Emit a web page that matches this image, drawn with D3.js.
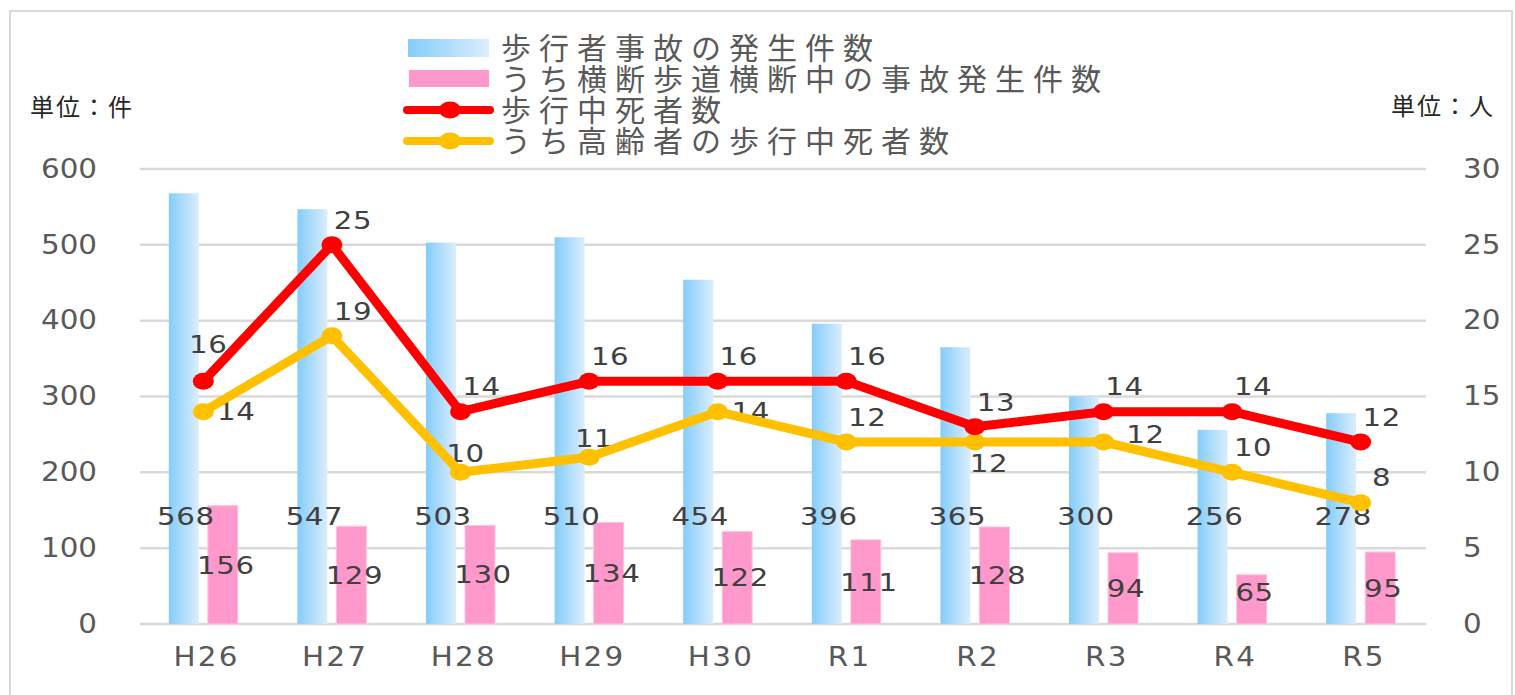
<!DOCTYPE html>
<html><head><meta charset="utf-8">
<script src="https://cdn.jsdelivr.net/npm/d3@7"></script>
<style>
html,body{margin:0;padding:0;background:#fff;}
text{font-family:"DejaVu Sans",Verdana,sans-serif;}
.jp{font-family:"Noto Sans CJK JP","Noto Sans CJK SC",sans-serif;}
</style></head><body>
<script>
const categories = ["H26","H27","H28","H29","H30","R1","R2","R3","R4","R5"];
const accidents = [568,547,503,510,454,396,365,300,256,278];
const crossing = [156,129,130,134,122,111,128,94,65,95];
const deaths = [16,25,14,16,16,16,13,14,14,12];
const elderlyDeaths = [14,19,10,11,14,12,12,12,10,8];
const leftTicks = [0,100,200,300,400,500,600];
const rightTicks = [0,5,10,15,20,25,30];
const seriesNames = ["歩行者事故の発生件数","うち横断歩道横断中の事故発生件数","歩行中死者数","うち高齢者の歩行中死者数"];
// label placement (categorical) for line labels
const deathsLabelPos = ["ul","ar","ar","ar","ar","ar","ar","ar","ar","ar"];
const elderlyLabelPos = ["r","ar","a","a","r","ar","b","r2","ar","ar"];

const W = 1515, H = 695;
const svg = d3.select("body").append("svg").attr("width",W).attr("height",H);
const defs = svg.append("defs");
const grad = defs.append("linearGradient").attr("id","blueGrad").attr("x1","0").attr("x2","1").attr("y1","0").attr("y2","0");
grad.append("stop").attr("offset","0").attr("stop-color","#84cdfa");
grad.append("stop").attr("offset","1").attr("stop-color","#dbedfd");

svg.append("rect").attr("x",10).attr("y",11).attr("width",1502).attr("height",700)
  .attr("fill","#fff").attr("stroke","#d9d9d9").attr("stroke-width",2);

const x0 = 140, x1 = 1426;
const x = d3.scaleBand().domain(categories).range([x0,x1]);
const yL = d3.scaleLinear().domain([0,600]).range([624,169]);
const yR = d3.scaleLinear().domain([0,30]).range([624,169]);
const cx = c => x(c) + x.bandwidth()/2 - 1;

// gridlines
svg.append("g").selectAll("line").data(leftTicks).join("line")
  .attr("x1",x0).attr("x2",x1).attr("y1",d=>yL(d)).attr("y2",d=>yL(d))
  .attr("stroke","#d9d9d9").attr("stroke-width",2.5);

// axes (labels only), horizontally stretched text
const sAx = 1.13;
const axL = svg.append("g").attr("transform",`translate(${x0},0)`)
  .call(d3.axisLeft(yL).tickValues(leftTicks).tickSize(0).tickPadding(43/sAx));
const axR = svg.append("g").attr("transform",`translate(${x1},0)`)
  .call(d3.axisRight(yR).tickValues(rightTicks).tickSize(0).tickPadding(37/sAx));
const axB = svg.append("g").attr("transform",`translate(0,624)`)
  .call(d3.axisBottom(x).tickSize(0).tickPadding(24));
[axL,axR,axB].forEach(a=>{
  a.select(".domain").remove();
  a.selectAll("text").attr("fill","#595959").attr("font-size",26)
    .attr("font-family","'DejaVu Sans',Verdana,sans-serif")
    .attr("transform",`scale(${sAx},1)`);
});
axB.selectAll("text").style("letter-spacing","2px").attr("dx",2);

const bw = 30, gap = 9;
// blue bars
svg.append("g").selectAll("rect").data(accidents).join("rect")
  .attr("x",(d,i)=>cx(categories[i]) - gap/2 - bw)
  .attr("y",d=>yL(d)).attr("width",bw).attr("height",d=>yL(0)-yL(d))
  .attr("fill","url(#blueGrad)");
// pink bars
svg.append("g").selectAll("rect").data(crossing).join("rect")
  .attr("x",(d,i)=>cx(categories[i]) + gap/2)
  .attr("y",d=>yL(d)).attr("width",bw).attr("height",d=>yL(0)-yL(d))
  .attr("fill","#ff99cc").attr("stroke","#ffc4e0").attr("stroke-width",1);

const lblColor = "#404040";
function lbl(g, xx, yy, t){
  g.append("text").attr("transform",`translate(${xx},${yy}) scale(1.17,1)`)
    .attr("text-anchor","middle")
    .attr("dominant-baseline","central").attr("font-size",25).attr("fill",lblColor)
    .style("letter-spacing","0.5px").text(t);
}
const labels = svg.append("g");
accidents.forEach((d,i)=>{
  lbl(labels, cx(categories[i]) - gap/2 - bw/2 + 2, 516, d);
});
crossing.forEach((d,i)=>{
  lbl(labels, cx(categories[i]) + gap/2 + bw/2 + 3, Math.min((yL(d)+yL(0))/2, 592), d);
});

// lines
function drawLine(data, color){
  const line = d3.line().x((d,i)=>cx(categories[i])).y(d=>yR(d));
  svg.append("path").datum(data).attr("d",line).attr("fill","none")
    .attr("stroke",color).attr("stroke-width",9).attr("stroke-linejoin","round");
  svg.append("g").selectAll("ellipse").data(data).join("ellipse")
    .attr("cx",(d,i)=>cx(categories[i])).attr("cy",d=>yR(d))
    .attr("rx",10.5).attr("ry",8.5).attr("fill",color);
}
drawLine(elderlyDeaths,"#ffc000");
drawLine(deaths,"#ff0000");

function lineLabels(data,pos){
  data.forEach((d,i)=>{
    const px = cx(categories[i]), py = yR(d);
    let dx=0, dy=0;
    switch(pos[i]){
      case "ul": dx=5; dy=-37; break;
      case "ar": dx=21; dy=-25; break;
      case "a": dx=5; dy=-19; break;
      case "r": dx=33; dy=0; break;
      case "r2": dx=42; dy=-8; break;
      case "b": dx=14; dy=21; break;
    }
    lbl(labels, px+dx, py+dy, d);
  });
}
lineLabels(deaths, deathsLabelPos);
lineLabels(elderlyDeaths, elderlyLabelPos);

// unit labels
svg.append("text").attr("class","jp").attr("x",30).attr("y",105).attr("dominant-baseline","central")
  .attr("font-size",24).attr("fill","#262626").style("letter-spacing","2px").text("単位：件");
svg.append("text").attr("class","jp").attr("x",1391).attr("y",104).attr("dominant-baseline","central")
  .attr("font-size",24).attr("fill","#262626").style("letter-spacing","2px").text("単位：人");

// legend
const leg = svg.append("g");
const rowsY = [48,79,110,141];
leg.append("rect").attr("x",408).attr("y",rowsY[0]-9).attr("width",81).attr("height",18).attr("fill","url(#blueGrad)");
leg.append("rect").attr("x",409).attr("y",rowsY[1]-9).attr("width",80).attr("height",17).attr("fill","#ff99cc");
[["#ff0000",rowsY[2]],["#ffc000",rowsY[3]]].forEach(([c,yy])=>{
  leg.append("line").attr("x1",407).attr("x2",490).attr("y1",yy).attr("y2",yy)
    .attr("stroke",c).attr("stroke-width",8).attr("stroke-linecap","round");
  leg.append("ellipse").attr("cx",450).attr("cy",yy).attr("rx",11).attr("ry",8.5).attr("fill",c);
});
seriesNames.forEach((n,i)=>{
  leg.append("text").attr("class","jp").attr("x",501).attr("y",rowsY[i]-2).attr("dominant-baseline","central")
    .attr("font-size",30).attr("fill","#595959").style("letter-spacing","8px").text(n);
});
</script>
</body></html>
